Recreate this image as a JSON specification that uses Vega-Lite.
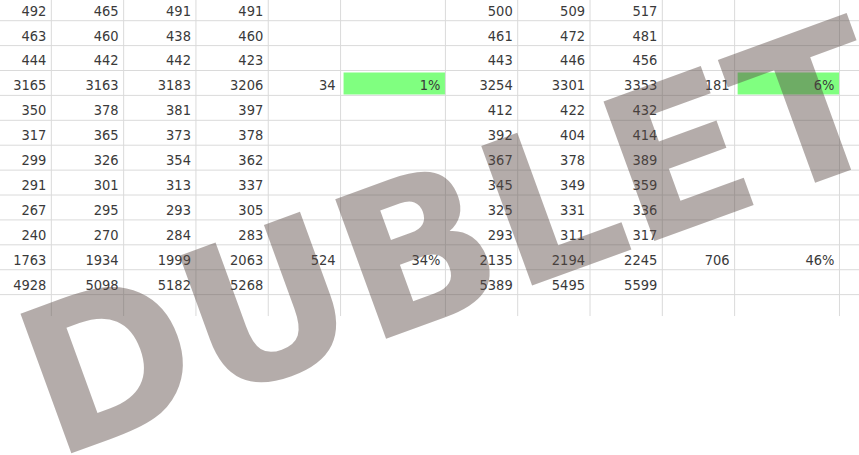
{
  "$schema": "https://vega.github.io/schema/vega-lite/v6.json",
  "autosize": {"type": "none"},
  "width": 859,
  "height": 455,
  "padding": 0,
  "background": "white",
  "config": {"view": {"stroke": null}},
  "datasets": {
    "cols": [
      {"col": "A", "start": 0, "end": 1},
      {"col": "B", "start": 1, "end": 2},
      {"col": "C", "start": 2, "end": 3},
      {"col": "D", "start": 3, "end": 4},
      {"col": "E", "start": 4, "end": 5},
      {"col": "F", "start": 5, "end": 6.45},
      {"col": "G", "start": 6.45, "end": 7.45},
      {"col": "H", "start": 7.45, "end": 8.45},
      {"col": "I", "start": 8.45, "end": 9.45},
      {"col": "J", "start": 9.45, "end": 10.45},
      {"col": "K", "start": 10.45, "end": 11.9}
    ],
    "rows": [
      {"row": 1}, {"row": 2}, {"row": 3}, {"row": 4}, {"row": 5}, {"row": 6},
      {"row": 7}, {"row": 8}, {"row": 9}, {"row": 10}, {"row": 11}, {"row": 12}
    ],
    "cells": [
      {"row": 1, "col": "A", "text": "492"}, {"row": 1, "col": "B", "text": "465"}, {"row": 1, "col": "C", "text": "491"}, {"row": 1, "col": "D", "text": "491"},
      {"row": 1, "col": "G", "text": "500"}, {"row": 1, "col": "H", "text": "509"}, {"row": 1, "col": "I", "text": "517"},
      {"row": 2, "col": "A", "text": "463"}, {"row": 2, "col": "B", "text": "460"}, {"row": 2, "col": "C", "text": "438"}, {"row": 2, "col": "D", "text": "460"},
      {"row": 2, "col": "G", "text": "461"}, {"row": 2, "col": "H", "text": "472"}, {"row": 2, "col": "I", "text": "481"},
      {"row": 3, "col": "A", "text": "444"}, {"row": 3, "col": "B", "text": "442"}, {"row": 3, "col": "C", "text": "442"}, {"row": 3, "col": "D", "text": "423"},
      {"row": 3, "col": "G", "text": "443"}, {"row": 3, "col": "H", "text": "446"}, {"row": 3, "col": "I", "text": "456"},
      {"row": 4, "col": "A", "text": "3165"}, {"row": 4, "col": "B", "text": "3163"}, {"row": 4, "col": "C", "text": "3183"}, {"row": 4, "col": "D", "text": "3206"},
      {"row": 4, "col": "E", "text": "34"}, {"row": 4, "col": "F", "text": "1%", "highlight": true},
      {"row": 4, "col": "G", "text": "3254"}, {"row": 4, "col": "H", "text": "3301"}, {"row": 4, "col": "I", "text": "3353"},
      {"row": 4, "col": "J", "text": "181"}, {"row": 4, "col": "K", "text": "6%", "highlight": true},
      {"row": 5, "col": "A", "text": "350"}, {"row": 5, "col": "B", "text": "378"}, {"row": 5, "col": "C", "text": "381"}, {"row": 5, "col": "D", "text": "397"},
      {"row": 5, "col": "G", "text": "412"}, {"row": 5, "col": "H", "text": "422"}, {"row": 5, "col": "I", "text": "432"},
      {"row": 6, "col": "A", "text": "317"}, {"row": 6, "col": "B", "text": "365"}, {"row": 6, "col": "C", "text": "373"}, {"row": 6, "col": "D", "text": "378"},
      {"row": 6, "col": "G", "text": "392"}, {"row": 6, "col": "H", "text": "404"}, {"row": 6, "col": "I", "text": "414"},
      {"row": 7, "col": "A", "text": "299"}, {"row": 7, "col": "B", "text": "326"}, {"row": 7, "col": "C", "text": "354"}, {"row": 7, "col": "D", "text": "362"},
      {"row": 7, "col": "G", "text": "367"}, {"row": 7, "col": "H", "text": "378"}, {"row": 7, "col": "I", "text": "389"},
      {"row": 8, "col": "A", "text": "291"}, {"row": 8, "col": "B", "text": "301"}, {"row": 8, "col": "C", "text": "313"}, {"row": 8, "col": "D", "text": "337"},
      {"row": 8, "col": "G", "text": "345"}, {"row": 8, "col": "H", "text": "349"}, {"row": 8, "col": "I", "text": "359"},
      {"row": 9, "col": "A", "text": "267"}, {"row": 9, "col": "B", "text": "295"}, {"row": 9, "col": "C", "text": "293"}, {"row": 9, "col": "D", "text": "305"},
      {"row": 9, "col": "G", "text": "325"}, {"row": 9, "col": "H", "text": "331"}, {"row": 9, "col": "I", "text": "336"},
      {"row": 10, "col": "A", "text": "240"}, {"row": 10, "col": "B", "text": "270"}, {"row": 10, "col": "C", "text": "284"}, {"row": 10, "col": "D", "text": "283"},
      {"row": 10, "col": "G", "text": "293"}, {"row": 10, "col": "H", "text": "311"}, {"row": 10, "col": "I", "text": "317"},
      {"row": 11, "col": "A", "text": "1763"}, {"row": 11, "col": "B", "text": "1934"}, {"row": 11, "col": "C", "text": "1999"}, {"row": 11, "col": "D", "text": "2063"},
      {"row": 11, "col": "E", "text": "524"}, {"row": 11, "col": "F", "text": "34%"},
      {"row": 11, "col": "G", "text": "2135"}, {"row": 11, "col": "H", "text": "2194"}, {"row": 11, "col": "I", "text": "2245"},
      {"row": 11, "col": "J", "text": "706"}, {"row": 11, "col": "K", "text": "46%"},
      {"row": 12, "col": "A", "text": "4928"}, {"row": 12, "col": "B", "text": "5098"}, {"row": 12, "col": "C", "text": "5182"}, {"row": 12, "col": "D", "text": "5268"},
      {"row": 12, "col": "G", "text": "5389"}, {"row": 12, "col": "H", "text": "5495"}, {"row": 12, "col": "I", "text": "5599"}
    ],
    "watermark": [{"label": "DUBLET", "x": 6.874, "y": 12.458}]
  },
  "layer": [
    {
      "data": {"name": "cells"},
      "transform": [
        {"filter": "datum.highlight === true"},
        {"lookup": "col", "from": {"data": {"name": "cols"}, "key": "col", "fields": ["start", "end"]}},
        {"calculate": "datum.row - 1", "as": "top"}
      ],
      "mark": {"type": "rect", "color": "#80ff80", "xOffset": 3, "x2Offset": 0, "yOffset": 2, "y2Offset": -1},
      "encoding": {
        "x": {"field": "start", "type": "quantitative", "scale": {"domain": [0.29, 12.17], "nice": false, "zero": false}, "axis": null},
        "x2": {"field": "end"},
        "y": {"field": "top", "type": "quantitative", "scale": {"domain": [0.169, 18.44], "nice": false, "zero": false, "reverse": true}, "axis": null},
        "y2": {"field": "row"}
      }
    },
    {
      "data": {"name": "rows"},
      "mark": {"type": "rule", "color": "#dadada", "strokeWidth": 1},
      "encoding": {
        "y": {"field": "row", "type": "quantitative", "scale": {"domain": [0.169, 18.44], "nice": false, "zero": false, "reverse": true}, "axis": null}
      }
    },
    {
      "data": {"name": "cols"},
      "mark": {"type": "rule", "color": "#dadada", "strokeWidth": 1},
      "encoding": {
        "x": {"field": "end", "type": "quantitative", "scale": {"domain": [0.29, 12.17], "nice": false, "zero": false}, "axis": null},
        "y": {"datum": 0, "type": "quantitative", "scale": {"domain": [0.169, 18.44], "nice": false, "zero": false, "reverse": true}, "axis": null},
        "y2": {"datum": 12.86}
      }
    },
    {
      "data": {"name": "cells"},
      "transform": [
        {"lookup": "col", "from": {"data": {"name": "cols"}, "key": "col", "fields": ["start", "end"]}}
      ],
      "mark": {"type": "text", "align": "right", "baseline": "alphabetic", "dx": -5, "dy": -5, "font": "DejaVu Sans Condensed, DejaVu Sans", "fontSize": 14.5, "color": "#3a3a3a"},
      "encoding": {
        "x": {"field": "end", "type": "quantitative", "scale": {"domain": [0.29, 12.17], "nice": false, "zero": false}, "axis": null},
        "y": {"field": "row", "type": "quantitative", "scale": {"domain": [0.169, 18.44], "nice": false, "zero": false, "reverse": true}, "axis": null},
        "text": {"field": "text"}
      }
    },
    {
      "data": {"name": "watermark"},
      "mark": {"type": "text", "align": "center", "baseline": "alphabetic", "angle": -20, "font": "DejaVu Sans", "fontWeight": "bold", "fontSize": 204, "color": "#5a4a45", "opacity": 0.45},
      "encoding": {
        "x": {"field": "x", "type": "quantitative", "scale": {"domain": [0.29, 12.17], "nice": false, "zero": false}, "axis": null},
        "y": {"field": "y", "type": "quantitative", "scale": {"domain": [0.169, 18.44], "nice": false, "zero": false, "reverse": true}, "axis": null},
        "text": {"field": "label"}
      }
    }
  ]
}
